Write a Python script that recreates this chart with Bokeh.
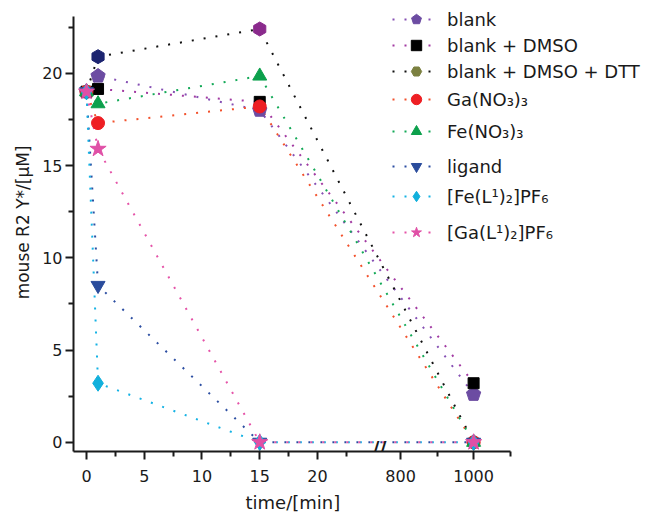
from bokeh.plotting import figure
from bokeh.models import FixedTicker, Legend, LegendItem, Label, ColumnDataSource, Range1d, Title
from bokeh.embed import file_html
from bokeh.resources import INLINE

# ---------------- data ----------------
time_min = [0, 1, 15, 1000]
blank = [19.0, 19.85, 18.0, 2.6]
blank_dmso = [19.0, 19.15, 18.45, 3.2]
blank_dmso_dtt = [19.0, 20.9, 22.4, 0.0]
ga_no3 = [19.0, 17.3, 18.2, 0.0]
fe_no3 = [19.0, 18.35, 19.85, 0.0]
ligand = [19.0, 8.5, 0.0, 0.0]
fe_l = [19.0, 3.2, 0.0, 0.0]
ga_l = [19.0, 15.9, 0.0, 0.0]

series_labels = ["blank", "blank + DMSO", "blank + DMSO + DTT", "Ga(NO₃)₃",
                 "Fe(NO₃)₃", "ligand", "[Fe(L¹)₂]PF₆", "[Ga(L¹)₂]PF₆"]

x_major = [0, 5, 10, 15, 20, 800, 1000]
x_minor = [2.5, 7.5, 12.5, 17.5, 22.5, 900, 1100]
y_major = [0, 5, 10, 15, 20]
y_minor = [2.5, 7.5, 12.5, 17.5, 22.5]

# ---------------- broken time axis ----------------
BREAK_FROM, BREAK_TO, SQUEEZE = 25.3, 740.0, 0.0316


def axis_pos(t):
    return round(t if t <= BREAK_FROM else BREAK_FROM + (t - BREAK_TO) * SQUEEZE, 4)


FONT = "DejaVu Sans"
TXT = "#1a1a1a"

X0 = axis_pos(-1.125)
p = figure(width=653, height=517, output_backend="svg", toolbar_location=None,
           x_range=Range1d(X0, X0 + 580 / 11.55),
           y_range=Range1d(-0.5, 23.944),
           min_border_left=73, min_border_right=0, min_border_top=0, min_border_bottom=66)
p.outline_line_color = None
p.xgrid.visible = False
p.ygrid.visible = False
p.background_fill_color = "white"
p.border_fill_color = "white"

p.xaxis.ticker = FixedTicker(ticks=[axis_pos(v) for v in x_major],
                             minor_ticks=[axis_pos(v) for v in x_minor])
p.xaxis.major_label_overrides = {axis_pos(v): str(v) for v in x_major}
p.xaxis.bounds = (X0, axis_pos(1100))
p.yaxis.ticker = FixedTicker(ticks=y_major, minor_ticks=y_minor)
p.yaxis.bounds = (-0.5, 23.1)

for ax in (p.xaxis[0], p.yaxis[0]):
    ax.axis_line_width = 2
    ax.axis_line_color = TXT
    ax.major_tick_line_width = 2
    ax.minor_tick_line_width = 2
    ax.major_tick_line_color = TXT
    ax.minor_tick_line_color = TXT
    ax.major_tick_in = 0
    ax.minor_tick_in = 0
    ax.major_tick_out = 8
    ax.minor_tick_out = 5
    ax.major_label_text_font = FONT
    ax.major_label_text_font_size = "16px"
    ax.major_label_text_color = TXT
p.xaxis.major_label_standoff = 10
p.yaxis.major_label_standoff = 3

# axis titles (placed as side titles so they can be positioned like the original)
p.add_layout(Title(text="time/[min]", align="left", offset=172, standoff=10,
                   text_font=FONT, text_font_size="18px", text_font_style="normal",
                   text_color=TXT), "below")
p.add_layout(Title(text="mouse R2 Y*/[μM]", align="right", offset=145, standoff=14,
                   text_font=FONT, text_font_size="17px", text_font_style="normal",
                   text_color=TXT), "left")

xs = [axis_pos(t) for t in time_min]

# values, line colour, marker, marker colours, size
styles = [
    (blank, "#8650b4", "pentagon", ["#6c4ca2"] * 4, 14),
    (blank_dmso, "#a23aa2", "square", ["#000000"] * 4, 11),
    (blank_dmso_dtt, "#111111", "hex", ["#7b8040", "#1c2470", "#8a2a8c", "#7b8040"], 14),
    (ga_no3, "#f2512c", "circle", ["#ee1f24"] * 4, 13),
    (fe_no3, "#13a957", "triangle", ["#0ca04c"] * 4, 14),
    (ligand, "#2c4ea2", "inverted_triangle", ["#2a4c9c"] * 4, 14),
    (fe_l, "#14b2e4", "diamond", ["#12b0dc"] * 4, 16),
    (ga_l, "#e553a8", "star", ["#e050a6"] * 4, 17),
]

line_rs = []
sources = []
for (vals, lc, mk, mcols, sz) in styles:
    src = ColumnDataSource(dict(x=xs, y=vals, c=mcols))
    sources.append(src)
    lr = p.line("x", "y", source=src, line_color=lc, line_width=2, line_dash="2 10")
    line_rs.append(lr)

mark_rs = []
for (vals, lc, mk, mcols, sz), src in zip(styles, sources):
    mr = None
    if mk == "pentagon":
        try:
            mr = p.ngon(x="x", y="y", radius=7.5, radius_units="screen", n=5,
                        source=src, fill_color="c", line_color="c")
        except Exception:
            mr = None
        if mr is None:
            mk = "hex"
    if mr is None:
        ang = 0.5236 if mk == "hex" else 0.0
        mr = p.scatter("x", "y", source=src, marker=mk, size=sz, angle=ang,
                       fill_color="c", line_color="c")
    mark_rs.append(mr)

# legends (one per row, for the uneven row spacing of the original)
row_centers = [19, 45, 71, 99, 131, 166, 196, 232]
frame_bottom_page = 451
ROW_H = 26
for lab, lr, mr, yc in zip(series_labels, line_rs, mark_rs, row_centers):
    leg = Legend(items=[LegendItem(label=lab, renderers=[lr, mr], index=0)],
                 location=(319, frame_bottom_page - (yc + ROW_H / 2)),
                 label_text_font=FONT, label_text_font_size="18px", label_text_color=TXT,
                 glyph_width=48, glyph_height=ROW_H, label_height=ROW_H, label_standoff=7,
                 padding=0, margin=0, spacing=0, border_line_color=None,
                 background_fill_alpha=0)
    p.add_layout(leg)

# axis break mark
p.add_layout(Label(x=25.37, y=-0.5, text="//", text_align="center", y_offset=4,
                   text_baseline="middle", text_font=FONT, text_font_size="19px",
                   text_font_style="bold", text_color=TXT))

open("out.html", "w").write(file_html(p, INLINE))
